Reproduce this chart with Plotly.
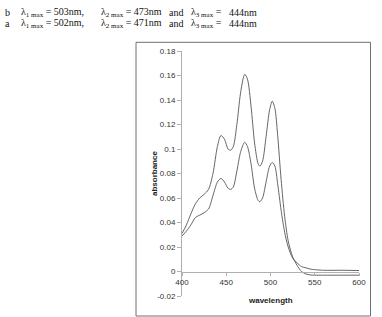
import plotly.graph_objects as go

wl_b = [400, 405, 410, 415, 420, 425, 430, 435, 440, 444, 448, 452, 455, 458, 462, 466, 470, 471,
        474, 478, 482, 486, 488, 491, 495, 499, 502, 505, 508, 512, 516, 520, 525, 530, 535, 540,
        545, 550, 560, 580, 600]
abs_b = [0.031, 0.038, 0.047, 0.055, 0.060, 0.063, 0.067, 0.080, 0.102, 0.111, 0.108, 0.100, 0.099,
         0.102, 0.120, 0.145, 0.160, 0.161, 0.157, 0.135, 0.105, 0.088, 0.086, 0.090, 0.110, 0.132,
         0.139, 0.133, 0.112, 0.075, 0.045, 0.025, 0.012, 0.005, 0.0, -0.002, -0.0028, -0.003,
         -0.003, -0.003, -0.003]

wl_a = wl_b
abs_a = [0.029, 0.033, 0.038, 0.044, 0.046, 0.048, 0.051, 0.062, 0.073, 0.076, 0.073, 0.068, 0.067,
         0.069, 0.082, 0.097, 0.105, 0.1055, 0.102, 0.088, 0.068, 0.058, 0.057, 0.060, 0.073, 0.086,
         0.089, 0.086, 0.072, 0.050, 0.032, 0.020, 0.011, 0.007, 0.004, 0.003, 0.002, 0.0015,
         0.001, 0.001, 0.0008]

x_ticks = [400, 450, 500, 550, 600]
y_ticks = [-0.02, 0, 0.02, 0.04, 0.06, 0.08, 0.1, 0.12, 0.14, 0.16, 0.18]
y_tick_text = ["-0.02", "0", "0.02", "0.04", "0.06", "0.08", "0.1", "0.12", "0.14", "0.16", "0.18"]

header_b = ["b", "λ<sub>1 max</sub> = 503nm,", "λ<sub>2 max</sub> = 473nm", "and", "λ<sub>3 max</sub> =", "444nm"]
header_a = ["a", "λ<sub>1 max</sub> = 502nm,", "λ<sub>2 max</sub> = 471nm", "and", "λ<sub>3 max</sub> =", "444nm"]

W, H = 382, 317
L, R, T, B = 182, 23, 51, 21
PW, PH = W - L - R, H - T - B


def px(X):
    return (X - L) / PW


def py(Y):
    return (H - B - Y) / PH


fig = go.Figure()
line_style = dict(color="#555555", width=0.9, shape="spline", smoothing=0.8)
fig.add_trace(go.Scatter(x=wl_b, y=abs_b, mode="lines", line=line_style, showlegend=False))
fig.add_trace(go.Scatter(x=wl_a, y=abs_a, mode="lines", line=line_style, showlegend=False))

tickfont = dict(family="Liberation Sans, Arial, sans-serif", size=8, color="#333")
fig.update_layout(
    width=W, height=H, margin=dict(l=L, r=R, t=T, b=B),
    paper_bgcolor="white", plot_bgcolor="white",
    xaxis=dict(range=[400, 600], tickvals=x_ticks, showgrid=False, zeroline=False,
               showline=True, linecolor="#b0b0b0", linewidth=1, anchor="free", position=0.1,
               ticks="outside", ticklen=3, tickcolor="#b0b0b0", tickfont=tickfont),
    yaxis=dict(range=[-0.02, 0.18], tickvals=y_ticks, ticktext=y_tick_text, showgrid=False,
               zeroline=False, showline=True, linecolor="#b0b0b0", linewidth=1,
               ticks="outside", ticklen=4, tickcolor="#b0b0b0", tickfont=tickfont),
)

# frame
fig.add_shape(type="rect", xref="paper", yref="paper", x0=px(136), x1=px(370.5), y0=py(316), y1=py(42.3),
              line=dict(color="#707070", width=1))

# axis titles
fig.add_annotation(xref="paper", yref="paper", x=px(148), y=py(173.5), text="<b>absorbance</b>",
                   textangle=-90, showarrow=False, font=dict(family="Liberation Sans, Arial, sans-serif", size=8, color="#222"))
fig.add_annotation(xref="paper", yref="paper", x=px(270.5), y=py(307), text="<b>wavelength</b>",
                   showarrow=False, font=dict(family="Liberation Sans, Arial, sans-serif", size=8, color="#222"))

# header text
xs = [3, 19, 99, 167, 189, 227]
serif = dict(family="Liberation Serif, Times New Roman, serif", size=10, color="#111")
for row, Y in ((header_b, 12.3), (header_a, 23.8)):
    for txt, X in zip(row, xs):
        fig.add_annotation(xref="paper", yref="paper", x=px(X), y=py(Y), text=txt, showarrow=False,
                           xanchor="left", yanchor="middle", font=serif)

fig.write_html("out.html")
